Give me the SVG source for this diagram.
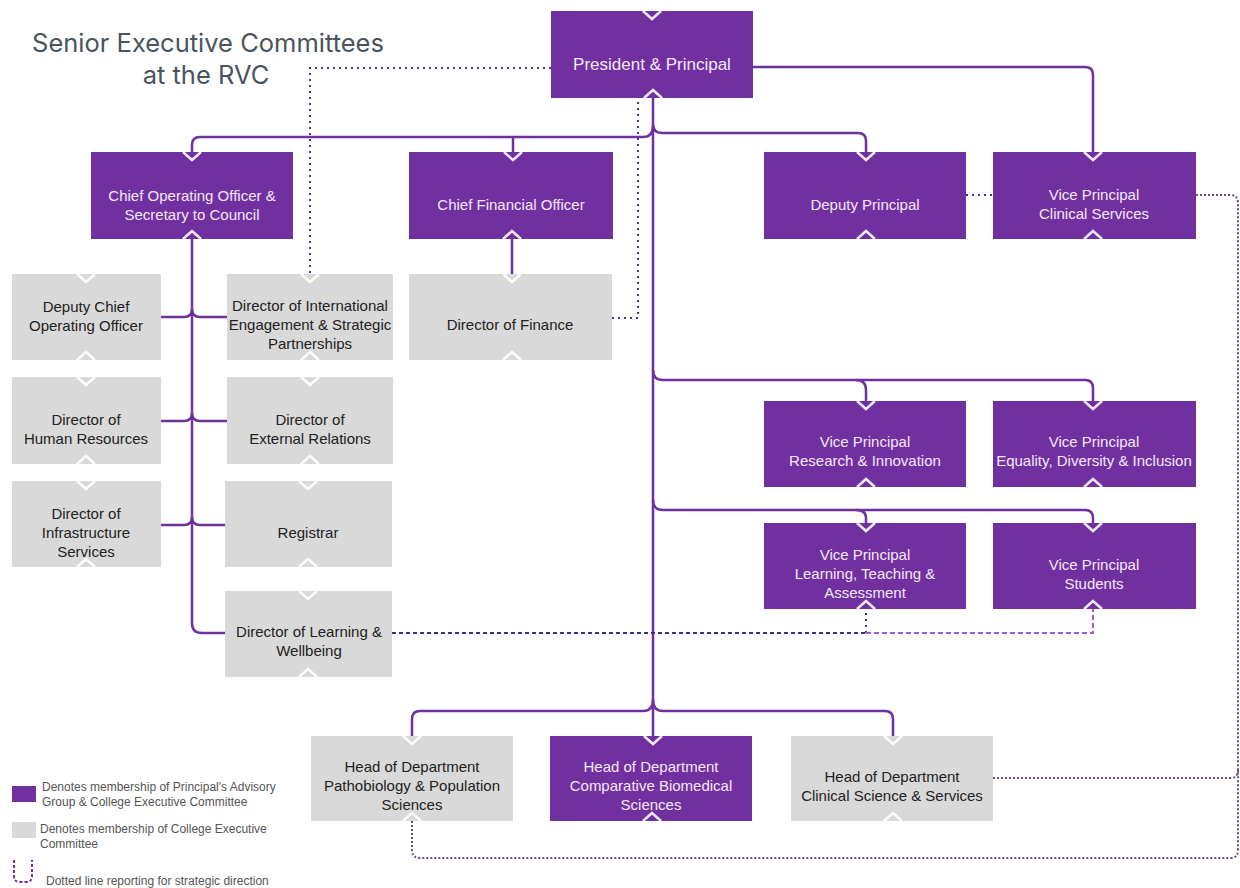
<svg xmlns="http://www.w3.org/2000/svg" xmlns:xlink="http://www.w3.org/1999/xlink" width="1240" height="888" viewBox="0 0 1240 888">
  <defs>
    <style>
      .p { fill: #7030A0; }
      .g { fill: #D9D9D9; }
      .tp { font-family: "Liberation Sans", Arial, sans-serif; font-size: 15px; fill: #F4E8F8; text-anchor: middle; }
      .tg { font-family: "Liberation Sans", Arial, sans-serif; font-size: 15px; fill: #222222; text-anchor: middle; }
      .title { font-family: Inter, "Liberation Sans", sans-serif; font-size: 25.5px; fill: #4A545E; text-anchor: middle; }
      .leg { font-family: "Liberation Sans", Arial, sans-serif; font-size: 12px; fill: #555555; }
      .ln { fill: none; stroke: #7030A0; stroke-width: 2.5; }
      .dot { fill: none; stroke: #4A2E9A; stroke-width: 2; stroke-dasharray: 2 4; }
      .dot2 { fill: none; stroke: #6A4A8C; stroke-width: 2; stroke-dasharray: 2 2; }
      .dash { fill: none; stroke: #3E2E8A; stroke-width: 2; stroke-dasharray: 4 3; }
      .dashl { fill: none; stroke: #A05AD6; stroke-width: 2; stroke-dasharray: 5 3; }
      .chev { fill: none; stroke: #FFFFFF; stroke-width: 2.5; opacity: 0.9; }
    </style>
    <polyline id="vdown" class="chev" points="-9,0 0,8 9,0"/>
    <polyline id="vup" class="chev" points="-9,0 0,-8 9,0"/>
  </defs>

  <rect width="1240" height="888" fill="#FFFFFF"/>

  <!-- heading -->
  <text class="title" x="208" y="52">Senior Executive Committees</text>
  <text class="title" x="206" y="84">at the RVC</text>

  <!-- reporting lines -->
  <g id="connectors">
    <!-- solid line management -->
    <path class="ln" d="M653,98 V736"/>
    <path class="ln" d="M653,126 Q653,137 643,137 H200 Q192,137 192,145 V152"/>
    <path class="ln" d="M653,124 Q653,133 662,133 H858 Q866,133 866,141 V152"/>
    <path class="ln" d="M753,67 H1085 Q1093,67 1093,75 V152"/>
    <path class="ln" d="M513,138 V152"/>
    <path class="ln" d="M512,239 V274"/>
    <path class="ln" d="M192,239 V623 Q192,633 202,633 H225"/>
    <path class="ln" d="M161,317 H184 Q192,317 192,309 Q192,317 200,317 H227"/>
    <path class="ln" d="M161,421 H184 Q192,421 192,413 Q192,421 200,421 H227"/>
    <path class="ln" d="M161,525 H184 Q192,525 192,517 Q192,525 200,525 H225"/>
    <path class="ln" d="M653,370 Q653,380 663,380 H1085 Q1093,380 1093,388 V401"/>
    <path class="ln" d="M856,380 Q866,380 866,390 V401"/>
    <path class="ln" d="M653,500 Q653,510 663,510 H1085 Q1093,510 1093,518 V523"/>
    <path class="ln" d="M856,510 Q866,510 866,518 V523"/>
    <path class="ln" d="M653,700 Q653,711 643,711 H420 Q412,711 412,719 V736"/>
    <path class="ln" d="M653,700 Q653,711 663,711 H885 Q893,711 893,719 V736"/>

    <!-- dotted strategic reporting -->
    <path class="dot" d="M551,68 H310 V274"/>
    <path class="dot" d="M612,318 H638 V98"/>
    <path class="dot" d="M966,195 H993"/>
    <path class="dot2" d="M1196,195 H1230 Q1238,195 1238,203 V850 Q1238,858 1230,858 H420 Q412,858 412,850 V821"/>
    <path class="dot2" d="M993,778 H1230 Q1238,778 1238,770"/>
    <path class="dash" d="M392,633 H866"/>
    <path class="dot" d="M866,633 V609"/>
    <path class="dashl" d="M866,633 H1093 V609"/>
  </g>

  <!-- executive boxes -->
  <g id="president">
    <rect class="p" x="551" y="11" width="202" height="87"/>
    <text class="tp" x="652" y="70" style="font-size:17px">President &amp; Principal</text>
    <use href="#vdown" x="652" y="11"/><use href="#vup" x="653" y="98"/>
  </g>
  <g id="coo">
    <rect class="p" x="91" y="152" width="202" height="87"/>
    <text class="tp" x="192" y="201">Chief Operating Officer &amp;</text>
    <text class="tp" x="192" y="220">Secretary to Council</text>
    <use href="#vdown" x="192" y="152"/><use href="#vup" x="192" y="239"/>
  </g>
  <g id="cfo">
    <rect class="p" x="409" y="152" width="204" height="87"/>
    <text class="tp" x="511" y="210">Chief Financial Officer</text>
    <use href="#vdown" x="513" y="152"/><use href="#vup" x="512" y="239"/>
  </g>
  <g id="deputy-principal">
    <rect class="p" x="764" y="152" width="202" height="87"/>
    <text class="tp" x="865" y="210">Deputy Principal</text>
    <use href="#vdown" x="866" y="152"/><use href="#vup" x="866" y="239"/>
  </g>
  <g id="vp-clinical">
    <rect class="p" x="993" y="152" width="203" height="87"/>
    <text class="tp" x="1094" y="200">Vice Principal</text>
    <text class="tp" x="1094" y="219">Clinical Services</text>
    <use href="#vdown" x="1093" y="152"/><use href="#vup" x="1093" y="239"/>
  </g>

  <g id="deputy-coo">
    <rect class="g" x="12" y="274" width="149" height="86"/>
    <text class="tg" x="86" y="312">Deputy Chief</text>
    <text class="tg" x="86" y="331">Operating Officer</text>
    <use href="#vdown" x="86" y="274"/><use href="#vup" x="86" y="360"/>
  </g>
  <g id="dir-international">
    <rect class="g" x="227" y="274" width="166" height="86"/>
    <text class="tg" x="310" y="311">Director of International</text>
    <text class="tg" x="310" y="330">Engagement &amp; Strategic</text>
    <text class="tg" x="310" y="349">Partnerships</text>
    <use href="#vdown" x="310" y="274"/><use href="#vup" x="310" y="360"/>
  </g>
  <g id="dir-finance">
    <rect class="g" x="409" y="274" width="203" height="86"/>
    <text class="tg" x="510" y="330">Director of Finance</text>
    <use href="#vdown" x="512" y="274"/><use href="#vup" x="512" y="360"/>
  </g>
  <g id="dir-hr">
    <rect class="g" x="12" y="377" width="149" height="87"/>
    <text class="tg" x="86" y="425">Director of</text>
    <text class="tg" x="86" y="444">Human Resources</text>
    <use href="#vdown" x="86" y="377"/><use href="#vup" x="86" y="464"/>
  </g>
  <g id="dir-external">
    <rect class="g" x="227" y="377" width="166" height="87"/>
    <text class="tg" x="310" y="425">Director of</text>
    <text class="tg" x="310" y="444">External Relations</text>
    <use href="#vdown" x="310" y="377"/><use href="#vup" x="310" y="464"/>
  </g>
  <g id="dir-infrastructure">
    <rect class="g" x="12" y="481" width="149" height="86"/>
    <text class="tg" x="86" y="519">Director of</text>
    <text class="tg" x="86" y="538">Infrastructure</text>
    <text class="tg" x="86" y="557">Services</text>
    <use href="#vdown" x="86" y="481"/><use href="#vup" x="86" y="567"/>
  </g>
  <g id="registrar">
    <rect class="g" x="225" y="481" width="167" height="86"/>
    <text class="tg" x="308" y="538">Registrar</text>
    <use href="#vdown" x="308" y="481"/><use href="#vup" x="308" y="567"/>
  </g>
  <g id="dir-learning">
    <rect class="g" x="225" y="591" width="167" height="86"/>
    <text class="tg" x="309" y="637">Director of Learning &amp;</text>
    <text class="tg" x="309" y="656">Wellbeing</text>
    <use href="#vdown" x="308" y="591"/><use href="#vup" x="308" y="677"/>
  </g>

  <g id="vp-research">
    <rect class="p" x="764" y="401" width="202" height="86"/>
    <text class="tp" x="865" y="447">Vice Principal</text>
    <text class="tp" x="865" y="466">Research &amp; Innovation</text>
    <use href="#vdown" x="866" y="401"/><use href="#vup" x="866" y="487"/>
  </g>
  <g id="vp-edi">
    <rect class="p" x="993" y="401" width="203" height="86"/>
    <text class="tp" x="1094" y="447">Vice Principal</text>
    <text class="tp" x="1094" y="466">Equality, Diversity &amp; Inclusion</text>
    <use href="#vdown" x="1093" y="401"/><use href="#vup" x="1093" y="487"/>
  </g>
  <g id="vp-learning">
    <rect class="p" x="764" y="523" width="202" height="86"/>
    <text class="tp" x="865" y="560">Vice Principal</text>
    <text class="tp" x="865" y="579">Learning, Teaching &amp;</text>
    <text class="tp" x="865" y="598">Assessment</text>
    <use href="#vdown" x="866" y="523"/><use href="#vup" x="866" y="609"/>
  </g>
  <g id="vp-students">
    <rect class="p" x="993" y="523" width="203" height="86"/>
    <text class="tp" x="1094" y="570">Vice Principal</text>
    <text class="tp" x="1094" y="589">Students</text>
    <use href="#vdown" x="1093" y="523"/><use href="#vup" x="1093" y="609"/>
  </g>

  <g id="hod-pathobiology">
    <rect class="g" x="311" y="736" width="202" height="85"/>
    <text class="tg" x="412" y="772">Head of Department</text>
    <text class="tg" x="412" y="791">Pathobiology &amp; Population</text>
    <text class="tg" x="412" y="810">Sciences</text>
    <use href="#vdown" x="412" y="736"/><use href="#vup" x="412" y="821"/>
  </g>
  <g id="hod-comparative">
    <rect class="p" x="550" y="736" width="202" height="85"/>
    <text class="tp" x="651" y="772">Head of Department</text>
    <text class="tp" x="651" y="791">Comparative Biomedical</text>
    <text class="tp" x="651" y="810">Sciences</text>
    <use href="#vdown" x="653" y="736"/><use href="#vup" x="652" y="821"/>
  </g>
  <g id="hod-clinical">
    <rect class="g" x="791" y="736" width="202" height="85"/>
    <text class="tg" x="892" y="782">Head of Department</text>
    <text class="tg" x="892" y="801">Clinical Science &amp; Services</text>
    <use href="#vdown" x="893" y="736"/><use href="#vup" x="893" y="821"/>
  </g>

  <!-- key -->
  <g id="legend">
    <rect class="p" x="12" y="786" width="24" height="16"/>
    <text class="leg" x="42" y="791">Denotes membership of Principal's Advisory</text>
    <text class="leg" x="42" y="806">Group &amp; College Executive Committee</text>
    <rect class="g" x="12" y="822" width="24" height="16"/>
    <text class="leg" x="40" y="833">Denotes membership of College Executive</text>
    <text class="leg" x="40" y="848">Committee</text>
    <path fill="none" stroke="#7030A0" stroke-width="2" stroke-dasharray="3 2" d="M14,860 V876 Q14,882 20,882 H26 Q32,882 32,876 V860"/>
    <text class="leg" x="46" y="885">Dotted line reporting for strategic direction</text>
  </g>
</svg>
